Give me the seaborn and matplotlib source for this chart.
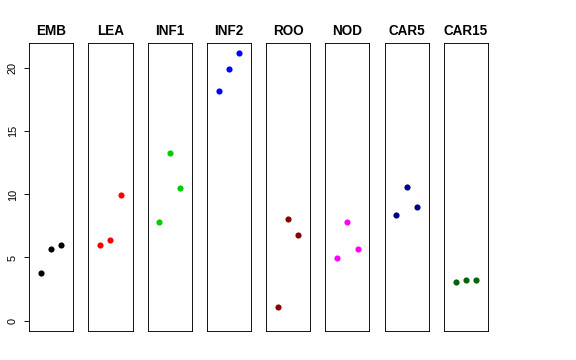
import numpy as np
import pandas as pd
import matplotlib
matplotlib.use("Agg")
import matplotlib.pyplot as plt
import seaborn as sns

stages = ["EMB", "LEA", "INF1", "INF2", "ROO", "NOD", "CAR5", "CAR15"]
colors = ["black", "red", "#00CD00", "blue", "#8B0000", "magenta", "#000080", "#006400"]
reps = [1, 2, 3]
values = [
    [3.79, 5.65, 6.02],
    [6.02, 6.36, 9.93],
    [7.82, 13.27, 10.52],
    [18.19, 19.96, 21.17],
    [1.10, 8.03, 6.81],
    [4.99, 7.84, 5.65],
    [8.37, 10.60, 8.98],
    [3.03, 3.21, 3.21],
]
yticks = [0, 5, 10, 15, 20]


def getFrame():
    rows = []
    for stage, vals in zip(stages, values):
        for r, v in zip(reps, vals):
            rows.append({"stage": stage, "rep": r, "value": v})
    return pd.DataFrame(rows)


def makePlot(frame):
    sns.set_style("white")
    plt.rcParams["font.family"] = ["Liberation Sans", "DejaVu Sans"]
    plt.rcParams["text.color"] = "black"
    plt.rcParams["axes.titlecolor"] = "black"
    plt.rcParams["ytick.color"] = "black"
    plt.rcParams["ytick.labelcolor"] = "black"
    fig = plt.figure(figsize=(8, 5), dpi=72)

    left, right = 29 / 576, 488 / 576
    bottom, top = 1 - 331 / 360, 1 - 43 / 360
    n = len(stages)
    gap = 15 / 576
    width = (right - left - gap * (n - 1)) / n

    for i, (stage, col) in enumerate(zip(stages, colors)):
        ax = fig.add_axes([left + i * (width + gap), bottom, width, top - bottom])
        sub = frame[frame["stage"] == stage]
        sns.scatterplot(x="rep", y="value", data=sub, color=col, s=38,
                        linewidth=0, ax=ax, legend=False)
        ax.set_xlim(-0.16, 4.16)
        ax.set_ylim(-0.83, 22.0)
        ax.set_xticks([])
        ax.set_xlabel("")
        ax.set_ylabel("")
        ax.set_title(stage, fontsize=13.5, fontweight="bold", pad=8, color="black")
        for sp in ax.spines.values():
            sp.set_visible(True)
            sp.set_color("black")
            sp.set_linewidth(0.9)
        if i == 0:
            ax.set_yticks(yticks)
            ax.set_yticklabels([str(t) for t in yticks], rotation=90, va="center",
                               fontsize=11, color="black")
            ax.tick_params(axis="y", left=True, length=5, width=0.9, pad=6,
                           color="black")
        else:
            ax.set_yticks([])

    fig.savefig("out.png", dpi=72)


def main():
    frame = getFrame()
    makePlot(frame)


if __name__ == "__main__":
    main()
